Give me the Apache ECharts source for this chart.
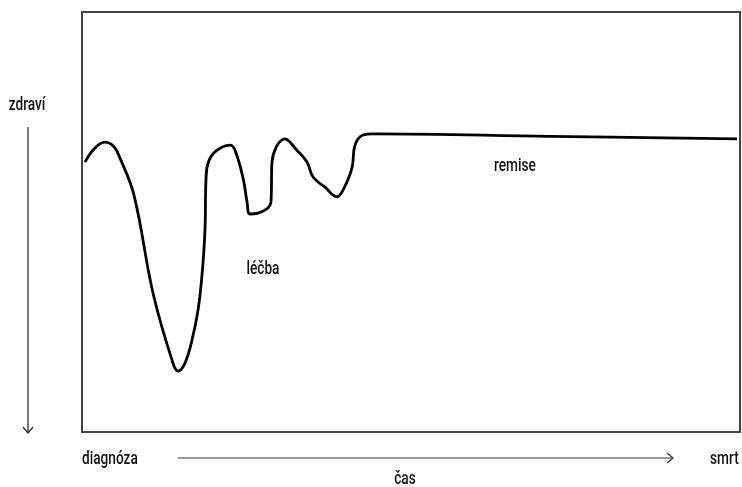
<!DOCTYPE html>
<html>
<head>
<meta charset="utf-8">
<script src="https://cdn.jsdelivr.net/npm/echarts@6/dist/echarts.min.js"></script>
<style>html,body{margin:0;padding:0;background:#fff;}#c{width:742px;height:487px;}</style>
</head>
<body>
<div id="c"></div>
<script>
// time (0-100) and health (0-100)
var timeValues = [0.46, 1.98, 3.50, 4.86, 5.78, 7.90, 10.79, 13.68, 14.59, 15.65, 16.72, 17.63, 18.24, 18.69, 18.84, 19.15, 20.21, 22.49, 23.25, 24.47, 25.08, 25.53, 26.75, 28.72, 28.88, 30.85, 32.67, 34.19, 35.11, 36.93, 38.75, 39.67, 41.03, 41.49, 42.71, 44.22, 71.1, 99.54];
var healthValues = [64.3, 67.6, 69.0, 67.9, 65.2, 56.4, 33.1, 17.1, 14.5, 16.4, 21.9, 29.0, 37.4, 48.1, 60.0, 64.0, 66.7, 68.3, 67.1, 60.5, 54.8, 51.9, 52.1, 54.8, 64.3, 69.8, 67.1, 64.3, 60.7, 58.3, 56.0, 57.6, 62.9, 68.3, 70.7, 71.0, 70.4, 69.8];
var annotationNames = ['léčba', 'remise'];
var annotationTime = [27.5, 65.8];
var annotationHealth = [38.8, 63.1];
var axisTexts = {y: 'zdraví', start: 'diagnóza', end: 'smrt', x: 'čas'};

var curve = timeValues.map(function (t, i) { return [t, healthValues[i]]; });
var FONT = '500 18px Roboto, "DejaVu Sans Condensed", sans-serif';
var SX = 0.76;
var INK = '#111';

function label(text, x, y, align) {
  return {
    type: 'text', x: x, y: y, scaleX: SX, z: 10,
    style: {text: text, fill: INK, font: FONT, align: align || 'center', verticalAlign: 'middle'}
  };
}

var chart = echarts.init(document.getElementById('c'));
chart.setOption({
  animation: false,
  backgroundColor: '#fff',
  grid: {left: 82, right: 2, top: 12, bottom: 55, show: true, borderColor: '#444', borderWidth: 2, backgroundColor: 'transparent'},
  xAxis: {type: 'value', min: 0, max: 100, show: false},
  yAxis: {type: 'value', min: 0, max: 100, show: false},
  series: [
    {
      type: 'line',
      data: curve,
      smooth: 0.4,
      symbol: 'none',
      lineStyle: {color: '#000', width: 2.8},
      z: 3
    }
  ]
});

var graphics = [
  label(axisTexts.y, 27, 105),
  {type: 'line', shape: {x1: 28, y1: 127, x2: 28, y2: 433}, style: {stroke: '#222', lineWidth: 1.2}},
  {type: 'polyline', shape: {points: [[23, 427], [28, 433], [33, 427]]}, style: {stroke: '#222', lineWidth: 1.2, fill: null}},
  label(axisTexts.start, 82, 459, 'left'),
  {type: 'line', shape: {x1: 178, y1: 458, x2: 673, y2: 458}, style: {stroke: '#333', lineWidth: 1.2}},
  {type: 'polyline', shape: {points: [[667, 453], [673, 458], [667, 463]]}, style: {stroke: '#333', lineWidth: 1.2, fill: null}},
  label(axisTexts.end, 710, 459, 'left'),
  label(axisTexts.x, 405, 479)
];
annotationNames.forEach(function (n, i) {
  var p = chart.convertToPixel({gridIndex: 0}, [annotationTime[i], annotationHealth[i]]);
  graphics.push(label(n, p[0], p[1]));
});
chart.setOption({graphic: graphics});
</script>
</body>
</html>
